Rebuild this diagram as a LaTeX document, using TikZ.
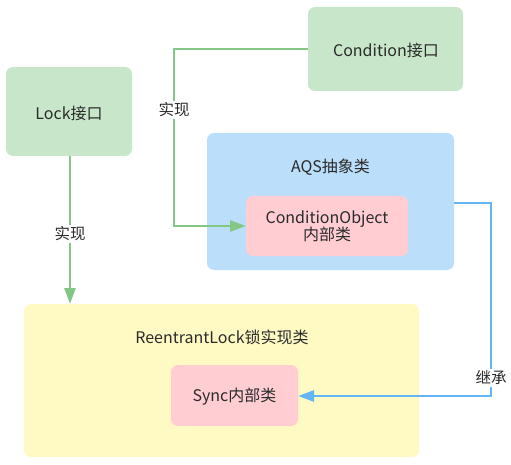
\documentclass[tikz,border=0pt]{standalone}
\usepackage{fontspec}
\setmainfont{Noto Sans CJK SC}
\usetikzlibrary{arrows.meta}
\definecolor{gfill}{HTML}{C8E6C9}
\definecolor{bfill}{HTML}{BBDEFB}
\definecolor{pfill}{HTML}{FFCDD2}
\definecolor{yfill}{HTML}{FFF9C4}
\definecolor{gline}{HTML}{82C785}
\definecolor{bline}{HTML}{64B5F6}
\definecolor{txt}{HTML}{2B2B2B}
\tikzset{
  box/.style={rounded corners=7pt, inner sep=0pt, text=txt, font=\fontsize{16}{18}\selectfont, align=center},
  lbl/.style={fill=white, inner sep=1.5pt, text=txt, font=\fontsize{15.5}{17}\selectfont},
  garr/.style={draw=gline, line width=2.5pt, -{Triangle[length=16pt,width=11pt]}},
  barr/.style={draw=bline, line width=2.5pt, -{Triangle[length=16pt,width=11pt]}},
}
\begin{document}
\begin{tikzpicture}[x=1pt,y=-1pt]
\useasboundingbox (0,0) rectangle (511,465);
% boxes
\fill[gfill, rounded corners=7pt] (308,7) rectangle (463,91);
\node[box] (cond) at (386,50) {Condition接口};
\fill[gfill, rounded corners=7pt] (6,67) rectangle (132,156);
\node[box] (lock) at (69,113) {Lock接口};
\fill[bfill, rounded corners=7pt] (207,133) rectangle (454,270);
\node[box] (aqs) at (330.5,167) {AQS抽象类};
\fill[pfill, rounded corners=7pt] (246,196) rectangle (408,256);
\node[box] (co) at (327,226) {ConditionObject\\[-1pt]内部类};
\fill[yfill, rounded corners=7pt] (24,304) rectangle (419,457);
\node[box] (rl) at (222,337) {ReentrantLock锁实现类};
\fill[pfill, rounded corners=7pt] (171,365) rectangle (298,426);
\node[box] (sync) at (234.5,397) {Sync内部类};
% anchors
\coordinate (condL) at (308,49);
\coordinate (lockB) at (70,156);
\coordinate (rlT) at (70,304);
\coordinate (coL) at (246,226);
\coordinate (aqsR) at (454,203);
\coordinate (syncR) at (298,396);
% connectors
\draw[garr] (condL) -- (174,49) -- (174,226) -- (coL);
\node[lbl] (l1) at (174,110) {实现};
\draw[garr] (lockB) -- (rlT);
\node[lbl] (l2) at (70,234) {实现};
\draw[barr] (aqsR) -- (491,203) -- (491,396) -- (syncR);
\node[lbl] (l3) at (491,378) {继承};
\end{tikzpicture}
\end{document}
